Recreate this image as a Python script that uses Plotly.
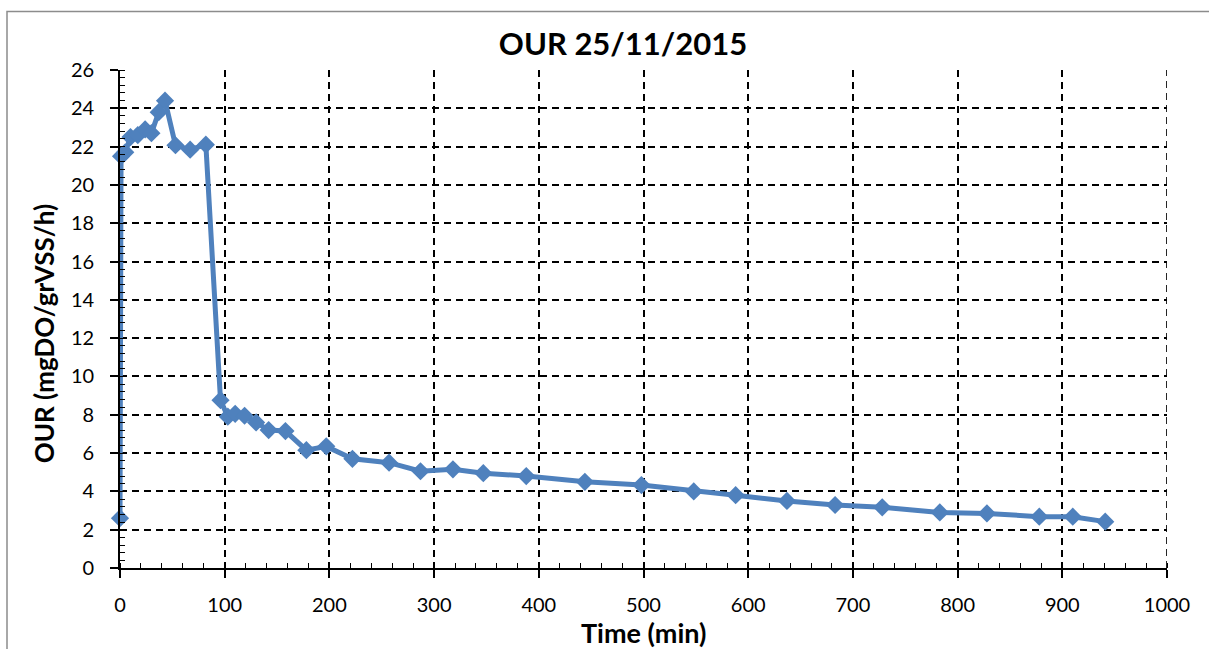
import plotly.graph_objects as go

# Oxygen uptake rate measurements
time_min = [0, 1, 5, 10, 17, 24, 30, 37, 43, 53, 67, 82,
            96, 103, 110, 119, 130, 142, 158, 178, 197, 222,
            257, 287, 318, 347, 388, 444, 498, 548, 588, 637,
            683, 728, 783, 828, 878, 910, 941]
our_values = [2.6, 21.5, 21.7, 22.5, 22.6, 22.9, 22.7, 23.8, 24.4, 22.07, 21.84, 22.1,
              8.76, 7.9, 8.05, 7.95, 7.6, 7.2, 7.15, 6.15, 6.35, 5.7,
              5.5, 5.05, 5.15, 4.95, 4.8, 4.5, 4.33, 4.0, 3.8, 3.5,
              3.29, 3.17, 2.9, 2.85, 2.68, 2.68, 2.42]

title_text = "OUR 25/11/2015"
x_title = "Time (min)"
y_title = "OUR (mgDO/grVSS/h)"

X_MAX = 1000
Y_MAX = 26

BLUE = "#4F81BD"
FONT = "Lato"
DASH = "7px,5px"

fig = go.Figure(
    go.Scatter(
        x=time_min,
        y=our_values,
        mode="lines+markers",
        line=dict(color=BLUE, width=5),
        marker=dict(symbol="diamond", size=14, color=BLUE),
        cliponaxis=False,
        showlegend=False,
    )
)

axis_common = dict(
    showgrid=True,
    gridcolor="black",
    gridwidth=1.7,
    griddash=DASH,
    showline=True,
    linecolor="black",
    linewidth=1.8,
    ticks="outside",
    ticklen=8,
    tickwidth=1.5,
    tickcolor="black",
    zeroline=False,
    tickfont=dict(family=FONT, size=20, color="black"),
)

fig.update_xaxes(
    range=[0, X_MAX], dtick=100, tick0=0, ticklabelstandoff=10,
    minor=dict(dtick=20, ticks="inside", ticklen=5, tickwidth=1.3, tickcolor="black"),
    **axis_common,
)
fig.update_yaxes(
    range=[0, Y_MAX], dtick=2, tick0=0, ticklabelstandoff=12,
    minor=dict(dtick=0.4, ticks="inside", ticklen=5, tickwidth=1.3, tickcolor="black"),
    **axis_common,
)

fig.update_layout(
    width=1209,
    height=649,
    margin=dict(l=120, r=42, t=70, b=81),
    paper_bgcolor="white",
    plot_bgcolor="white",
    font=dict(family=FONT, color="black"),
    title=dict(
        text=f"<b>{title_text}</b>",
        font=dict(family=FONT, size=31, color="black"),
        x=623 / 1209, xref="container", xanchor="center",
        y=1 - 44 / 649, yref="container", yanchor="middle",
    ),
    annotations=[
        dict(text=f"<b>{x_title}</b>", xref="paper", yref="paper",
             x=(643 - 120) / 1047, y=(568 - 633) / 498.5,
             xanchor="center", yanchor="middle", showarrow=False,
             font=dict(family=FONT, size=27, color="black")),
        dict(text=f"<b>{y_title}</b>", xref="paper", yref="paper",
             x=(44 - 120) / 1047, y=(568 - 334) / 498.5, textangle=-90,
             xanchor="center", yanchor="middle", showarrow=False,
             font=dict(family=FONT, size=26, color="black")),
    ],
    shapes=[
        # chart area frame
        dict(type="rect", xref="paper", yref="paper",
             x0=(7 - 120) / 1047, x1=(1230 - 120) / 1047,
             y0=(568 - 680) / 498.5, y1=(568 - 11) / 498.5,
             line=dict(color="#8c8c8c", width=1.5), fillcolor="rgba(0,0,0,0)",
             layer="below"),
        # dashed gridline along the right edge of the plot area
        dict(type="line", xref="x", yref="y",
             x0=X_MAX, x1=X_MAX, y0=0, y1=Y_MAX,
             line=dict(color="black", width=1.7, dash=DASH), layer="below"),
    ],
)

fig.write_html("out.html")
